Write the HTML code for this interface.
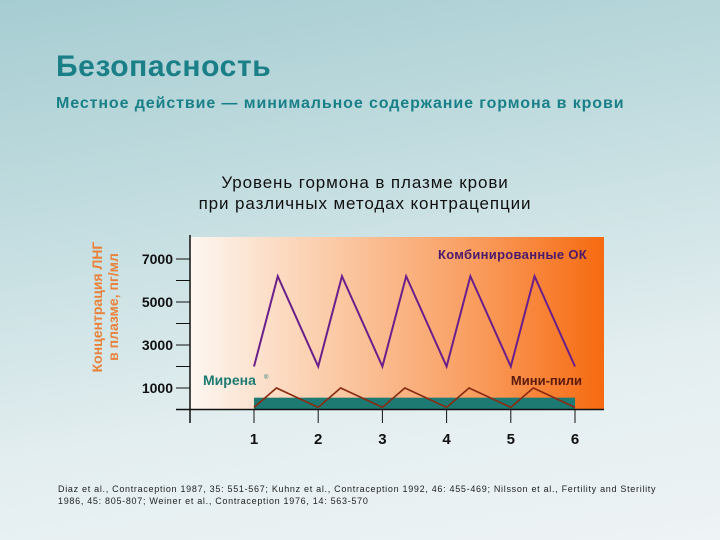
<!DOCTYPE html>
<html><head><meta charset="utf-8"><style>
html,body{margin:0;padding:0}
body{width:720px;height:540px;overflow:hidden;position:relative;font-family:"Liberation Sans","Noto Sans CJK SC",sans-serif;
background:linear-gradient(170deg,#a6cdd2 0%,#c3dde0 35%,#e3eef0 70%,#eef3f5 100%)}
.t{position:absolute;white-space:nowrap}
</style></head><body>
<div class="t" style="left:56px;top:50px;font-size:30px;font-weight:bold;color:#1a7f86;letter-spacing:0.6px">Безопасность</div>
<div class="t" style="left:56px;top:95px;font-size:16px;font-weight:bold;color:#1a8088;letter-spacing:0.9px">Местное действие — минимальное содержание гормона в крови</div>
<div class="t" style="left:365px;transform:translateX(-50%);top:172px;font-size:17px;line-height:21px;color:#111;text-align:center;letter-spacing:0.9px">Уровень гормона в плазме крови<br>при различных методах контрацепции</div>
<svg width="720" height="540" style="position:absolute;left:0;top:0">
<defs><linearGradient id="bg" x1="0" x2="1"><stop offset="0" stop-color="#fdf7f2"/><stop offset="0.3" stop-color="#fbd0b0"/><stop offset="0.7" stop-color="#f99b5c"/><stop offset="1" stop-color="#f66a10"/></linearGradient></defs>
<g id="g"></g>
<text transform="translate(104,307) rotate(-90)" text-anchor="middle" font-size="14" font-weight="bold" fill="#e8823a"><tspan x="0" dy="-2">Концентрация ЛНГ</tspan><tspan x="0" dy="16">в плазме, пг/мл</tspan></text>
</svg>
<div class="t" style="left:58px;top:483px;font-size:9px;line-height:12px;color:#222;letter-spacing:0.7px">Diaz et al., Contraception 1987, 35: 551-567; Kuhnz et al., Contraception 1992, 46: 455-469; Nilsson et al., Fertility and Sterility<br>1986, 45: 805-807; Weiner et al., Contraception 1976, 14: 563-570</div>
<script>
const xCats=[1,2,3,4,5,6];
const yTicks=[1000,3000,5000,7000];
const cocX=[1,1.37,2,2.37,3,3.37,4,4.37,5,5.37,6];
const cocY=[2000,6200,2000,6200,2000,6200,2000,6200,2000,6200,2000];
const miniX=[1,1.35,2,2.35,3,3.35,4,4.35,5,5.35,6];
const miniY=[100,1000,100,1000,100,1000,100,1000,100,1000,100];
const mirena=[1,6,550];
const NS='http://www.w3.org/2000/svg';
const g=document.getElementById('g');
const X=v=>254+(v-1)*64.2, Y=v=>409.5-v*0.0215;
function mk(t,a,p){const e=document.createElementNS(NS,t);for(const k in a)e.setAttribute(k,a[k]);(p||g).appendChild(e);return e;}
let e=mk('rect',{x:190,y:237,width:414,height:172,fill:'url(#bg)'});

e=mk('rect',{x:X(mirena[0]),y:Y(mirena[2]),width:X(mirena[1])-X(mirena[0]),height:Y(0)-Y(mirena[2]),fill:'#1c7a72'});

e=mk('polyline',{points:miniX.map((x,i)=>X(x)+','+Y(miniY[i])).join(' '),fill:'none',stroke:'#8a2a10','stroke-width':1.6});

e=mk('polyline',{points:cocX.map((x,i)=>X(x)+','+Y(cocY[i])).join(' '),fill:'none',stroke:'#6a1f8a','stroke-width':2});

e=mk('line',{x1:190,y1:235,x2:190,y2:423,stroke:'#111','stroke-width':1.5});

e=mk('line',{x1:176,y1:409.5,x2:604,y2:409.5,stroke:'#111','stroke-width':1.5});

for(let v=1000;v<=7000;v+=1000){e=mk('line',{x1:176,y1:Y(v),x2:190,y2:Y(v),stroke:'#111','stroke-width':1});
}
yTicks.forEach(v=>{e=mk('text',{x:173,y:Y(v)+5,'text-anchor':'end','font-size':14,'font-weight':'bold',fill:'#111'});e.textContent=v;
});
xCats.forEach(v=>{e=mk('line',{x1:X(v),y1:409.5,x2:X(v),y2:423,stroke:'#111','stroke-width':1});

e=mk('text',{x:X(v),y:444,'text-anchor':'middle','font-size':15,'font-weight':'bold',fill:'#111'});e.textContent=v;
});
e=mk('text',{x:587,y:259,'text-anchor':'end','font-size':13,'font-weight':'bold',fill:'#4a1a6a','letter-spacing':'0.3'});e.textContent='Комбинированные ОК';

e=mk('text',{x:203,y:385,'font-size':14,'font-weight':'bold',fill:'#1c7a72'});e.textContent='Мирена';

e=mk('text',{x:264,y:379,'font-size':6,fill:'#1c7a72'});e.textContent='®';

e=mk('text',{x:582,y:385,'text-anchor':'end','font-size':13,'font-weight':'bold',fill:'#5a1a10'});e.textContent='Мини-пили';

</script>
</body></html>
